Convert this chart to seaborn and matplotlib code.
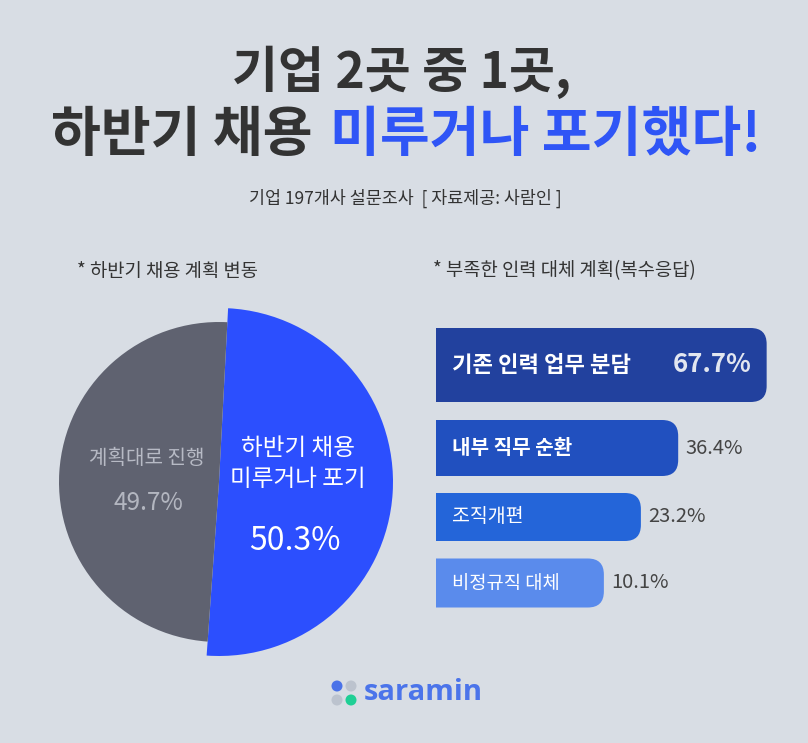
import matplotlib
matplotlib.use('Agg')
import matplotlib.pyplot as plt
import seaborn as sns
from matplotlib.patches import FancyBboxPatch, Circle

sns.set_theme(style='white')
plt.rcParams['font.family'] = ['Noto Sans CJK KR', 'DejaVu Sans']

# data
plan_labels = ['하반기 채용\n미루거나 포기', '계획대로 진행']
plan_share = [50.3, 49.7]
alt_labels = ['기존 인력 업무 분담', '내부 직무 순환', '조직개편', '비정규직 대체']
alt_share = [67.7, 36.4, 23.2, 10.1]

BG = '#d8dde4'
DARK = '#333333'
W, H = 808, 743

fig = plt.figure(figsize=(W / 100, H / 100), dpi=100, facecolor=BG)


def box(x0, y0, x1, y1):
    # pixel box (top-based) -> figure fraction
    return [x0 / W, 1 - y1 / H, (x1 - x0) / W, (y1 - y0) / H]


# --- pie: 하반기 채용 계획 변동 ---
ax_pie = fig.add_axes(box(39, 302, 399, 662))
wedges, _ = ax_pie.pie(plan_share, colors=['#2c4ffe', '#5f6270'], startangle=87,
                       counterclock=False, radius=174, wedgeprops=dict(linewidth=0))
wedges[1].set_radius(160)
ax_pie.set_xlim(-180, 180)
ax_pie.set_ylim(-180, 180)
ax_pie.set_aspect('equal')
ax_pie.axis('off')

# --- bars: 부족한 인력 대체 계획 ---
bar_x0, bar_x1 = 436, 800
base_pad = 49.3          # bars start left of zero (as in the original graphic)
x_max = 79.5
ppu = (bar_x1 - bar_x0) / (x_max + base_pad)
bar_centers = [365, 448, 517, 583]
bar_heights = [74, 56, 48, 49]
bar_colors = ['#22419e', '#2150bf', '#2465d9', '#5a8bec']
label_weights = ['bold', 'bold', 'normal', 'normal']
label_sizes = [16, 14.5, 14, 13.5]

ax_bar = fig.add_axes(box(bar_x0, 310, bar_x1, 620))
sns.barplot(x=alt_share, y=alt_labels, orient='h', color=bar_colors[0], ax=ax_bar)
values = [p.get_width() for p in ax_bar.patches]
for p in list(ax_bar.patches):
    p.remove()
ax_bar.set_xlim(-base_pad, x_max)
ax_bar.set_ylim(620, 310)
ax_bar.axis('off')

r = 16
for i, v in enumerate(values):
    yc, h = bar_centers[i], bar_heights[i]
    left = -base_pad - 10
    ax_bar.add_patch(FancyBboxPatch(
        (left, yc - h / 2), v - left, h,
        boxstyle=f'round,pad=0,rounding_size={r / ppu}',
        mutation_aspect=ppu, facecolor=bar_colors[i], edgecolor='none'))
    ax_bar.annotate(alt_labels[i], xy=(-base_pad, yc), xytext=(16, 0),
                    textcoords='offset pixels', ha='left', va='center',
                    color='white', fontsize=label_sizes[i], fontweight=label_weights[i])
    if v == max(values):
        ax_bar.annotate(f'{v:.1f}%', xy=(v, yc), xytext=(-15, 0),
                        textcoords='offset pixels', ha='right', va='center',
                        color='#e2e6f0', fontsize=18.5, fontweight='bold')
    else:
        ax_bar.annotate(f'{v:.1f}%', xy=(v, yc), xytext=(7, 0),
                        textcoords='offset pixels', ha='left', va='center',
                        color='#444444', fontsize=14.5)

# --- overlay for titles and labels (pixel coords) ---
ax_txt = fig.add_axes([0, 0, 1, 1])
ax_txt.set_xlim(0, W)
ax_txt.set_ylim(H, 0)
ax_txt.axis('off')
ax_txt.patch.set_alpha(0)

ax_txt.text(402, 72, '기업 2곳 중 1곳,', ha='center', va='center',
            fontsize=36, fontweight='bold', color=DARK)
t1 = ax_txt.text(0, 136, '하반기 채용', ha='left', va='center',
                 fontsize=39, fontweight='bold', color=DARK)
t2 = ax_txt.text(0, 136, '미루거나 포기했다!', ha='left', va='center',
                 fontsize=39, fontweight='bold', color='#2f55f6')
rend = fig.canvas.get_renderer()
w1 = t1.get_window_extent(rend).width
w2 = t2.get_window_extent(rend).width
gap = 17
start = 406 - (w1 + gap + w2) / 2
t1.set_x(start)
t2.set_x(start + w1 + gap)

ax_txt.text(405, 198, '기업 197개사 설문조사  [ 자료제공: 사람인 ]', ha='center', va='center',
            fontsize=12.5, color=DARK)

ax_txt.text(77, 271, '* 하반기 채용 계획 변동', ha='left', va='center',
            fontsize=13.5, color=DARK)
ax_txt.text(433, 271, '* 부족한 인력 대체 계획(복수응답)', ha='left', va='center',
            fontsize=13.5, color=DARK)

# pie labels
ax_txt.text(147, 458, plan_labels[1], ha='center', va='center',
            fontsize=14.5, color='#b7bac5')
ax_txt.text(148, 503, f'{plan_share[1]:.1f}%', ha='center', va='center',
            fontsize=17.5, color='#b3b6c0')
ax_txt.text(298, 464, plan_labels[0], ha='center', va='center', linespacing=1.4,
            fontsize=17, color='white')
ax_txt.text(295, 541, f'{plan_share[0]:.1f}%', ha='center', va='center',
            fontsize=23, color='white')

# logo
for (cx, cy), c in zip([(337, 686), (351, 686), (337, 700), (351, 700)],
                       ['#4a72e8', '#bcc3ce', '#bcc3ce', '#1fcf95']):
    ax_txt.add_patch(Circle((cx, cy), 5.5, facecolor=c, edgecolor='none'))
ax_txt.text(364, 692, 'saramin', ha='left', va='center', fontsize=21,
            fontweight='bold', color='#4b74ea', family=['Open Sans', 'DejaVu Sans'])

fig.savefig('out.png', dpi=100, facecolor=BG)
